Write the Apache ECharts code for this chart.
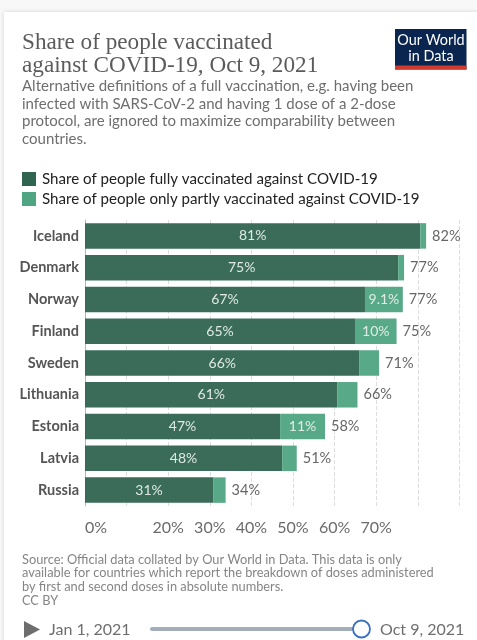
<!DOCTYPE html>
<html><head><meta charset="utf-8">
<style>html,body{margin:0;padding:0;background:#f8f8f8;overflow:hidden}#c{width:477px;height:640px}</style>
<script src="https://cdn.jsdelivr.net/npm/echarts@6/dist/echarts.min.js"></script>
</head><body><div id="c"></div>
<script>
const countries = ['Iceland','Denmark','Norway','Finland','Sweden','Lithuania','Estonia','Latvia','Russia'];
const fully = [80.6,75.3,67.3,64.9,66,60.7,46.9,47.4,30.8];
const partly = [1.4,1.4,9.1,10,4.7,4.8,10.8,3.5,3];
const fullyLabels = ['81%','75%','67%','65%','66%','61%','47%','48%','31%'];
const partlyLabels = ['','','9.1%','10%','','','11%','',''];
const totalLabels = ['82%','77%','77%','75%','71%','66%','58%','51%','34%'];
const tickLabels = {0:'0%',20:'20%',30:'30%',40:'40%',50:'50%',60:'60%',70:'70%'};
const seriesNames = ['Share of people fully vaccinated against COVID-19','Share of people only partly vaccinated against COVID-19'];
const titleLines = 'Share of people vaccinated\nagainst COVID-19, Oct 9, 2021';
const subtitle = 'Alternative definitions of a full vaccination, e.g. having been\ninfected with SARS-CoV-2 and having 1 dose of a 2-dose\nprotocol, are ignored to maximize comparability between\ncountries.';
const footer = 'Source: Official data collated by Our World in Data. This data is only\navailable for countries which report the breakdown of doses administered\nby first and second doses in absolute numbers.\nCC BY';
const F='Lato, sans-serif';
const chart = echarts.init(document.getElementById('c'),null,{renderer:'canvas'});
const txt=(x,y,text,font,fill,lh,extra)=>({type:'text',x,y,silent:true,style:Object.assign({text,font,fill,lineHeight:lh,textBaseline:'top'},extra||{})});
chart.setOption({
  animation:false,
  backgroundColor:'transparent',
  legend:{left:22,top:171.5,padding:0,orient:'vertical',itemWidth:14,itemHeight:14,itemGap:5,itemStyle:{opacity:1},icon:'rect',
    textStyle:{fontFamily:F,fontSize:15.1,color:'#222222',padding:[0,0,0,1]},
    data:seriesNames},
  grid:{left:85,top:220,width:374.4,height:286},
  xAxis:{type:'value',min:0,max:90,interval:10,
    axisLine:{show:false},axisTick:{show:false},
    splitLine:{show:true,lineStyle:{color:'#dddddd',type:'dashed',width:1}},
    axisLabel:{fontFamily:F,fontSize:16,color:'#6b6b6b',margin:14,alignMinLabel:'left',
      formatter:v=>tickLabels[v]||''}},
  yAxis:{type:'category',inverse:true,data:countries,
    axisLine:{show:true,lineStyle:{color:'#b5b5b5',width:1}},axisTick:{show:false},
    axisLabel:{fontFamily:F,fontSize:14.5,fontWeight:'bold',color:'#555555',margin:6}},
  series:[
    {name:seriesNames[0],type:'bar',stack:'s',barWidth:25.5,data:fully,
     itemStyle:{color:'#2f6450',opacity:.95},
     label:{show:true,position:'inside',fontFamily:F,fontSize:14,color:'#e8f0ec',
       formatter:p=>fullyLabels[p.dataIndex]}},
    {name:seriesNames[1],type:'bar',stack:'s',barWidth:25.5,data:partly,
     itemStyle:{color:'#4fa482',opacity:.95},
     label:{show:true,position:'inside',fontFamily:F,fontSize:14,color:'#e8f0ec',
       formatter:p=>partlyLabels[p.dataIndex]}},
    {name:'Total',type:'bar',stack:'s',barWidth:25.5,data:countries.map(()=>0),
     itemStyle:{color:'transparent'},
     label:{show:true,position:'right',distance:6,fontFamily:F,fontSize:14.5,color:'#666666',
       formatter:p=>totalLabels[p.dataIndex]}}
  ],
  graphic:{elements:[
    {type:'rect',z:-10,silent:true,shape:{x:4,y:12,width:500,height:660},
      style:{fill:'#ffffff',shadowBlur:4,shadowColor:'rgba(0,0,0,0.15)'}},
    txt(22,31,titleLines,'23.2px "Liberation Serif", serif','#5b5b5b',23),
    txt(22,77.5,subtitle,'15px '+F,'#6e6e6e',17.5),
    txt(22,552.5,footer,'12.8px '+F,'#858585',13.9),
    {type:'rect',silent:true,shape:{x:395,y:29,width:71.5,height:40.5},style:{fill:'#0a2550'}},
    {type:'rect',silent:true,shape:{x:395,y:65.5,width:71.5,height:4},style:{fill:'#cf3a2c'}},
    {type:'text',x:431,y:32.5,silent:true,style:{text:'Our World\nin Data',font:'14.4px '+F,fill:'#ffffff',lineHeight:16,textAlign:'center',textBaseline:'top'}},
    {type:'polygon',silent:true,shape:{points:[[24,621],[40,629.5],[24,638]]},style:{fill:'#6e6e6e'}},
    txt(49,621,'Jan 1, 2021','16px '+F,'#6e6e6e',18),
    {type:'rect',silent:true,shape:{x:150,y:627,width:211,height:4,r:2},style:{fill:'#a3aeba'}},
    {type:'circle',silent:true,shape:{cx:361.5,cy:629,r:8.5},style:{fill:'#ffffff',stroke:'#3a6fc4',lineWidth:1.8}},
    txt(380,621,'Oct 9, 2021','16px '+F,'#6e6e6e',18)
  ]}
});
</script></body></html>
